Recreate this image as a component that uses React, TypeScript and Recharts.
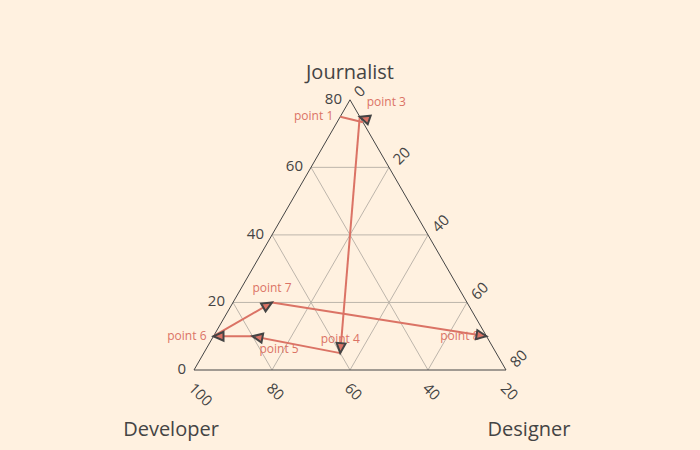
import { ReferenceLine, Scatter, ScatterChart, XAxis, YAxis } from "recharts";

// raw data, sum = 100 (journalist / developer / designer)
const LABELS = [
  "point 1", "point 2", "point 3", "point 4", "point 5", "point 6",
  "point 7", "point 8", "point 9", "point 10", "point 11",
];
const JOURNALIST = [75, 70, 75, 5, 10, 10, 20, 10, 15, 10, 20];
const DEVELOPER = [25, 10, 20, 60, 80, 90, 70, 20, 5, 10, 10];
const DESIGNER = [0, 20, 5, 35, 10, 0, 10, 70, 80, 80, 70];
const TEXT_POS = [
  "middle left", "middle left", "top right", "top center", "bottom right",
  "middle left", "top center", "middle left", "middle left", "middle left",
  "middle left",
];

const AXIS_TITLES = ["Journalist", "Developer", "Designer"];
const A_TICKS = [0, 20, 40, 60, 80];
const B_TICKS = [100, 80, 60, 40, 20];
const C_TICKS = [0, 20, 40, 60, 80];
const A_GRID = [20, 40, 60];
const B_GRID = [40, 60, 80];
const C_GRID = [20, 40, 60];

const SUM = 100;
const A_MIN = 0;
const B_MIN = 20;
const C_MIN = 0;

const W = 700;
const H = 450;
const PX = 312; // pixels per unit side
const LEFT = 194;
const BOTTOM = 370;

const LINE_COLOR = "#DB7365";
const TEXT_COLOR = "#444";
const GRID_COLOR = "#bdb5ab";
const BG = "#fff1e0";
const FONT = '"Open Sans", sans-serif';

const SPAN = SUM - A_MIN - B_MIN - C_MIN;
const R3 = Math.sqrt(3) / 2;

function toXY(a: number, b: number, c: number) {
  const an = (a - A_MIN) / SPAN;
  const cn = (c - C_MIN) / SPAN;
  return { x: cn + an / 2, y: an * R3 };
}

const inside = (a: number, b: number, c: number) =>
  a >= A_MIN - 1e-9 && b >= B_MIN - 1e-9 && c >= C_MIN - 1e-9;

// clip a segment to the triangle in ternary space
function clipSeg(p: number[], q: number[]) {
  let t0 = 0;
  let t1 = 1;
  const mins = [A_MIN, B_MIN, C_MIN];
  for (let k = 0; k < 3; k++) {
    const f0 = p[k] - mins[k];
    const f1 = q[k] - mins[k];
    if (f0 < 0 && f1 < 0) return null;
    if (f0 < 0) t0 = Math.max(t0, f0 / (f0 - f1));
    else if (f1 < 0) t1 = Math.min(t1, f0 / (f0 - f1));
  }
  if (t1 - t0 < 1e-6) return null;
  const at = (t: number) => p.map((v, k) => v + (q[k] - v) * t);
  return [at(t0), at(t1)];
}

const raw = LABELS.map((label, i) => ({
  label,
  a: JOURNALIST[i],
  b: DEVELOPER[i],
  c: DESIGNER[i],
  pos: TEXT_POS[i],
}));

const points = raw.map((r, i) => {
  const p = toXY(r.a, r.b, r.c);
  let angle: number | null = null;
  if (i > 0) {
    const prev = toXY(raw[i - 1].a, raw[i - 1].b, raw[i - 1].c);
    angle = (Math.atan2(-(p.y - prev.y), p.x - prev.x) * 180) / Math.PI;
  }
  return { ...p, ...r, angle, visible: inside(r.a, r.b, r.c) };
});
const visiblePoints = points.filter((p) => p.visible);

const segments: { x: number; y: number }[][] = [];
for (let i = 1; i < raw.length; i++) {
  const s = clipSeg(
    [raw[i - 1].a, raw[i - 1].b, raw[i - 1].c],
    [raw[i].a, raw[i].b, raw[i].c]
  );
  if (s) segments.push(s.map((v) => toXY(v[0], v[1], v[2])));
}

const gridLines = [
  ...A_GRID.map((v) => [toXY(v, SUM - v - C_MIN, C_MIN), toXY(v, B_MIN, SUM - v - B_MIN)]),
  ...B_GRID.map((v) => [toXY(A_MIN, v, SUM - v - A_MIN), toXY(SUM - v - C_MIN, v, C_MIN)]),
  ...C_GRID.map((v) => [toXY(A_MIN, SUM - v - A_MIN, v), toXY(SUM - v - B_MIN, B_MIN, v)]),
];

const TOP_V = toXY(SUM - B_MIN - C_MIN, B_MIN, C_MIN);
const LEFT_V = toXY(A_MIN, SUM - A_MIN - C_MIN, C_MIN);
const RIGHT_V = toXY(A_MIN, B_MIN, SUM - A_MIN - B_MIN);
const sides = [
  [LEFT_V, TOP_V],
  [TOP_V, RIGHT_V],
  [LEFT_V, RIGHT_V],
];

const tickData = [
  ...A_TICKS.map((v) => ({ ...toXY(v, SUM - v - C_MIN, C_MIN), text: String(v), kind: "a" })),
  ...B_TICKS.map((v) => ({ ...toXY(A_MIN, v, SUM - v - A_MIN), text: String(v), kind: "b" })),
  ...C_TICKS.map((v) => ({ ...toXY(SUM - v - B_MIN, B_MIN, v), text: String(v), kind: "c" })),
];

const titleData = [
  { ...TOP_V, text: AXIS_TITLES[0], kind: "a" },
  { ...LEFT_V, text: AXIS_TITLES[1], kind: "b" },
  { ...RIGHT_V, text: AXIS_TITLES[2], kind: "c" },
];

const X_DOMAIN = [-LEFT / PX, (W - LEFT) / PX];
const Y_DOMAIN = [-(H - BOTTOM) / PX, BOTTOM / PX];

function TickLabel(props: any) {
  const { cx, cy, payload } = props;
  const common = { fontSize: 15, fill: TEXT_COLOR, fontFamily: FONT, dominantBaseline: "central" as const };
  if (payload.kind === "a") {
    return <text x={cx - 8} y={cy - 2} textAnchor="end" {...common}>{payload.text}</text>;
  }
  if (payload.kind === "b") {
    const x = cx - 2;
    const y = cy + 15;
    return (
      <text x={x} y={y} textAnchor="start" transform={`rotate(45 ${x} ${y})`} {...common}>
        {payload.text}
      </text>
    );
  }
  const x = cx + 6;
  const y = cy - 6;
  return (
    <text x={x} y={y} textAnchor="start" transform={`rotate(-45 ${x} ${y})`} {...common}>
      {payload.text}
    </text>
  );
}

function AxisTitle(props: any) {
  const { cx, cy, payload } = props;
  let dx = 0;
  let dy = -28;
  if (payload.kind === "b") {
    dx = -23;
    dy = 58;
  } else if (payload.kind === "c") {
    dx = 23;
    dy = 58;
  }
  return (
    <text
      x={cx + dx}
      y={cy + dy}
      textAnchor="middle"
      dominantBaseline="central"
      fontSize={20}
      fill={TEXT_COLOR}
      fontFamily={FONT}
    >
      {payload.text}
    </text>
  );
}

function ArrowMarker(props: any) {
  const { cx, cy, payload } = props;
  if (payload.angle === null) return <g />;
  return (
    <path
      d="M0,0L-10,-4.5L-10,4.5Z"
      transform={`translate(${cx},${cy}) rotate(${payload.angle})`}
      fill={LINE_COLOR}
      stroke={TEXT_COLOR}
      strokeWidth={2}
      strokeLinejoin="miter"
    />
  );
}

function PointLabel(props: any) {
  const { cx, cy, payload } = props;
  const pos: string = payload.pos;
  let x = cx;
  let y = cy - 1;
  let anchor: "start" | "middle" | "end" = "middle";
  if (pos.startsWith("top")) y = cy - 15;
  else if (pos.startsWith("bottom")) y = cy + 12;
  if (pos.endsWith("left")) {
    x = cx - 7;
    anchor = "end";
  } else if (pos.endsWith("right")) {
    x = cx + 7;
    anchor = "start";
  }
  return (
    <text
      x={x}
      y={y}
      textAnchor={anchor}
      dominantBaseline="central"
      fontSize={12}
      fill={LINE_COLOR}
      fontFamily={FONT}
    >
      {payload.label}
    </text>
  );
}

export default function App() {
  return (
    <div
      style={{
        position: "absolute",
        left: 0,
        top: 0,
        width: W,
        height: H,
        background: BG,
        fontFamily: FONT,
      }}
    >
      <ScatterChart width={W} height={H} margin={{ top: 0, right: 0, bottom: 0, left: 0 }}>
        <XAxis type="number" dataKey="x" domain={X_DOMAIN} allowDataOverflow hide />
        <YAxis type="number" dataKey="y" domain={Y_DOMAIN} allowDataOverflow hide />
        {gridLines.map((seg, i) => (
          <ReferenceLine
            key={`g${i}`}
            segment={seg}
            stroke={GRID_COLOR}
            strokeWidth={1}
            ifOverflow="visible"
          />
        ))}
        {sides.map((seg, i) => (
          <ReferenceLine
            key={`s${i}`}
            segment={seg}
            stroke={TEXT_COLOR}
            strokeWidth={1}
            ifOverflow="visible"
          />
        ))}
        {segments.map((seg, i) => (
          <ReferenceLine
            key={`d${i}`}
            segment={seg}
            stroke={LINE_COLOR}
            strokeWidth={2}
            ifOverflow="visible"
          />
        ))}
        <Scatter data={tickData} shape={TickLabel} isAnimationActive={false} />
        <Scatter data={titleData} shape={AxisTitle} isAnimationActive={false} />
        <Scatter data={visiblePoints} shape={PointLabel} isAnimationActive={false} />
        <Scatter data={visiblePoints} shape={ArrowMarker} isAnimationActive={false} />
      </ScatterChart>
    </div>
  );
}
